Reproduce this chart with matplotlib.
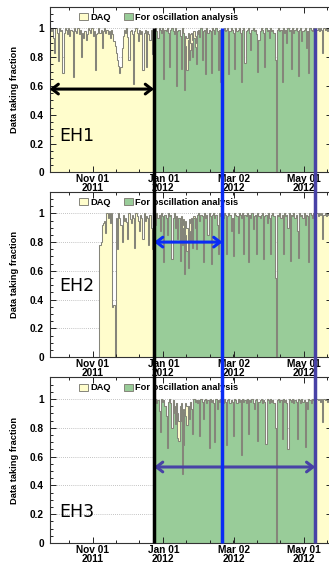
import datetime as dt
import matplotlib
matplotlib.use('Agg')
import matplotlib.pyplot as plt
import matplotlib.dates as mdates
from matplotlib.lines import Line2D
from matplotlib.patches import Patch
from matplotlib.ticker import MultipleLocator

# daily data taking fractions, one value per day
EH1_START = dt.date(2011, 9, 24)
EH2_START = dt.date(2011, 11, 7)
EH3_START = dt.date(2011, 12, 24)
OSC_START = dt.date(2011, 12, 24)

# EH1: Sep 24 - Dec 23 (DAQ only)
EH1_DAQ_PRE = [0.97, 1, 0.98, 1, 0.93, 0.83, 1, 0.97, 0.77, 1,
               0.98, 0.99, 0.69, 0.97, 1, 0.99, 0.96, 1, 0.95, 0.99,
               0.98, 0.66, 1, 0.98, 0.97, 1, 0.96, 0.99, 0.80, 0.97,
               0.93, 0.98, 0.92, 0.96, 1, 0.99, 0.97, 1, 0.95, 0.98,
               0.71, 0.96, 0.97, 1, 0.97, 0.99, 0.86, 0.98, 1, 0.97,
               0.99, 0.96, 0.98, 0.93, 0.99, 0.96, 0.91, 0.88, 0.83, 0.78,
               0.74, 0.69, 0.73, 0.86, 0.95, 0.99, 0.97, 1, 0.94, 0.78,
               0.98, 0.99, 0.96, 0.61, 0.98, 1, 0.97, 0.91, 0.99, 0.96,
               0.98, 0.71, 0.97, 0.99, 0.73, 0.98, 0.96, 0.92, 0.99, 0.82,
               0.97]
# Dec 24 - May 10
EH1_DAQ_RUN = [0.99, 1, 0.98, 0.93, 1, 0.99, 0.97, 1, 0.65, 0.99,
               0.98, 1, 0.97, 0.73, 0.99, 1, 0.98, 0.96, 1, 0.60,
               0.98, 0.99, 0.95, 0.72, 1, 0.97, 0.62, 0.95, 0.93, 0.97,
               0.90, 0.96, 0.97, 0.92, 0.98, 0.95, 0.90, 0.98, 0.99, 0.94,
               1, 0.78, 0.98, 0.99, 0.68, 1, 0.97, 0.99, 0.98, 0.69,
               1, 0.99, 0.96, 1, 0.98, 0.71, 0.99, 0.63, 0.97, 0.99,
               1, 0.98, 0.99, 1, 0.68, 0.98, 1, 0.99, 0.97, 0.72,
               1, 0.98, 0.99, 1, 0.97, 0.63, 0.99, 1, 0.76, 0.98,
               0.99, 1, 0.97, 0.85, 0.99, 1, 0.98, 0.99, 0.96, 0.70,
               0.92, 0.98, 1, 0.99, 0.97, 0.73, 1, 0.98, 0.99, 0.93,
               1, 0.98, 0.99, 0.97, 0.78, 0, 0.99, 1, 0.98, 0.99,
               0.63, 1, 0.97, 0.99, 0.90, 1, 0.98, 0.99, 0.72, 1,
               0.97, 0.99, 1, 0.98, 0.67, 0.99, 1, 0.91, 0.98, 0.99,
               1, 0.86, 0.98, 0.69, 1, 0.99, 0.98, 1, 0.99]
EH1_OSC = [0.99, 1, 0.98, 0.93, 1, 0.99, 0.97, 1, 0.65, 0.99,
           0.98, 1, 0.97, 0.73, 0.99, 1, 0.98, 0.96, 1, 0.60,
           0.98, 0.99, 0.95, 0.72, 1, 0.97, 0.57, 0.88, 0.71, 0.92,
           0.78, 0.85, 0.90, 0.80, 0.93, 0.87, 0.75, 0.96, 0.99, 0.94,
           1, 0.78, 0.98, 0.99, 0.68, 1, 0.97, 0.99, 0.98, 0.69,
           1, 0.99, 0.96, 1, 0.98, 0.71, 0.99, 0.63, 0.97, 0.99,
           1, 0.98, 0.99, 1, 0.68, 0.98, 1, 0.99, 0.97, 0.72,
           1, 0.98, 0.99, 1, 0.97, 0.63, 0.99, 1, 0.76, 0.98,
           0.99, 1, 0.97, 0.85, 0.99, 1, 0.98, 0.99, 0.96, 0.70,
           0.92, 0.98, 1, 0.99, 0.97, 0.73, 1, 0.98, 0.99, 0.93,
           1, 0.98, 0.99, 0.97, 0.78, 0, 0.99, 1, 0.98, 0.99,
           0.63, 1, 0.97, 0.99, 0.90, 1, 0.98, 0.99, 0.72, 1,
           0.97, 0.99, 1, 0.98, 0.67, 0.99, 1, 0.91, 0.98, 0.99,
           1, 0.86, 0.98, 0.69, 1, 0.99, 0.98, 1, 0.99]
# May 11 - May 24
EH1_DAQ_POST = [1, 0.99, 1, 0.98, 1, 0.99, 0.83, 1, 0.99, 1, 0.98, 1, 0.99, 1]

# EH2: Nov 7 - Dec 23
EH2_DAQ_PRE = [0.78, 0.80, 0.92, 0.93, 0.95, 0.86, 1, 0.97, 1, 0.93,
               1, 0.35, 0.36, 0, 0.97, 0.75, 1, 0.97, 0.92, 0.80,
               0.99, 0.95, 0.97, 0.94, 0.82, 1, 0.96, 0.93, 0.99, 0.97,
               0.76, 1, 0.98, 0.95, 0.88, 0.99, 0.97, 0.82, 1, 0.95,
               0.98, 0.97, 0.78, 0.99, 0.90, 0.75, 0.96]
EH2_DAQ_RUN = [0.98, 0.92, 1, 0.97, 0.99, 0.88, 1, 0.98, 0.66, 0.99,
               0.97, 0.85, 1, 0.98, 0.99, 0.68, 0.97, 1, 0.90, 0.98,
               0.95, 0.97, 0.85, 0.98, 0.92, 0.96, 0.60, 0.95, 0.90, 0.66,
               0.96, 0.93, 0.97, 0.90, 0.98, 0.97, 0.88, 0.99, 1, 0.95,
               0.99, 0.98, 0.66, 1, 0.97, 0.99, 0.85, 1, 0.98, 0.65,
               0.99, 1, 0.97, 0.99, 0.92, 0.72, 1, 0.98, 0.99, 0.97,
               1, 0.99, 0.72, 0.98, 1, 0.99, 0.88, 0.97, 0.70, 1,
               0.99, 0.98, 0.86, 1, 0.99, 0.97, 1, 0.72, 0.99, 0.98,
               1, 0.66, 0.99, 0.97, 1, 0.89, 0.98, 0.99, 0.72, 1,
               0.98, 0.97, 0.99, 1, 0.68, 0.98, 0.99, 0.93, 1, 0.97,
               0.72, 0.99, 1, 0.98, 0.55, 0, 0.99, 0.98, 1, 0.97,
               0.99, 0.72, 1, 0.98, 0.99, 0.90, 1, 0.67, 0.99, 0.98,
               1, 0.97, 0.99, 0.88, 0.69, 1, 0.98, 0.99, 0.97, 1,
               0.92, 0.99, 0.98, 0.66, 1, 0.99, 0.97, 1, 0.98]
EH2_OSC = [0.98, 0.92, 1, 0.97, 0.99, 0.88, 1, 0.98, 0.66, 0.99,
           0.97, 0.85, 1, 0.98, 0.99, 0.68, 0.97, 1, 0.90, 0.98,
           0.82, 0.97, 0.67, 0.95, 0.78, 0.90, 0.58, 0.85, 0.74, 0.62,
           0.88, 0.80, 0.93, 0.76, 0.97, 0.90, 0.75, 0.99, 1, 0.95,
           0.99, 0.98, 0.66, 1, 0.97, 0.99, 0.85, 1, 0.98, 0.65,
           0.99, 1, 0.97, 0.99, 0.92, 0.72, 1, 0.98, 0.99, 0.97,
           1, 0.99, 0.72, 0.98, 1, 0.99, 0.88, 0.97, 0.70, 1,
           0.99, 0.98, 0.86, 1, 0.99, 0.97, 1, 0.72, 0.99, 0.98,
           1, 0.66, 0.99, 0.97, 1, 0.89, 0.98, 0.99, 0.72, 1,
           0.98, 0.97, 0.99, 1, 0.68, 0.98, 0.99, 0.93, 1, 0.97,
           0.72, 0.99, 1, 0.98, 0.55, 0, 0.99, 0.98, 1, 0.97,
           0.99, 0.72, 1, 0.98, 0.99, 0.90, 1, 0.67, 0.99, 0.98,
           1, 0.97, 0.99, 0.88, 0.69, 1, 0.98, 0.99, 0.97, 1,
           0.92, 0.99, 0.98, 0.66, 1, 0.99, 0.97, 1, 0.98]
EH2_DAQ_POST = [0.99, 1, 0.98, 1, 0.99, 1, 0.82, 0.99, 1, 0.98, 1, 0.99, 1, 0.98]

# EH3: starts Dec 24
EH3_DAQ_RUN = [0.99, 1, 0.97, 0.99, 0.92, 0.77, 1, 0.98, 0.99, 0.95,
               0.88, 0.66, 0.98, 1, 0.97, 0.80, 0.99, 0.90, 0.95, 0.97,
               0.90, 0.85, 0.95, 0.97, 0.48, 0.93, 0.92, 0.97, 0.95, 0.95,
               0.86, 0.98, 0.93, 0.76, 1, 0.98, 0.99, 0.97, 0.99, 0.74,
               1, 0.98, 0.86, 0.99, 1, 0.97, 0.99, 0.66, 1, 0.98,
               0.99, 0.97, 0.70, 1, 0.93, 0.99, 0.98, 1, 0.99, 0.97,
               1, 0.98, 0.68, 0.99, 1, 0.97, 0.99, 0.98, 0.74, 1,
               0.99, 0.97, 1, 0.98, 0.99, 0.61, 1, 0.98, 0.99, 0.97,
               1, 0.76, 0.99, 0.98, 1, 0.97, 0.93, 0.99, 1, 0.71,
               0.98, 0.99, 1, 0.97, 0.99, 0.98, 0.69, 1, 0.99, 0.97,
               1, 0.98, 0.99, 0.97, 0.80, 0, 0.99, 1, 0.98, 0.99,
               0.72, 1, 0.98, 0.99, 0.97, 0.65, 1, 0.99, 0.98, 1,
               0.97, 0.99, 0.98, 0.72, 1, 0.99, 0.97, 1, 0.98, 0.99,
               0.67, 0.98, 0.93, 1, 0.99, 0.97, 1, 0.99, 0.98]
EH3_OSC = [0.99, 1, 0.97, 0.99, 0.92, 0.77, 1, 0.98, 0.99, 0.95,
           0.88, 0.66, 0.98, 1, 0.97, 0.80, 0.99, 0.90, 0.83, 0.97,
           0.73, 0.71, 0.95, 0.85, 0.48, 0.68, 0.92, 0.88, 0.82, 0.95,
           0.86, 0.98, 0.93, 0.76, 1, 0.98, 0.99, 0.97, 0.99, 0.74,
           1, 0.98, 0.86, 0.99, 1, 0.97, 0.99, 0.66, 1, 0.98,
           0.99, 0.97, 0.70, 1, 0.93, 0.99, 0.98, 1, 0.99, 0.97,
           1, 0.98, 0.68, 0.99, 1, 0.97, 0.99, 0.98, 0.74, 1,
           0.99, 0.97, 1, 0.98, 0.99, 0.61, 1, 0.98, 0.99, 0.97,
           1, 0.76, 0.99, 0.98, 1, 0.97, 0.93, 0.99, 1, 0.71,
           0.98, 0.99, 1, 0.97, 0.99, 0.98, 0.69, 1, 0.99, 0.97,
           1, 0.98, 0.99, 0.97, 0.80, 0, 0.99, 1, 0.98, 0.99,
           0.72, 1, 0.98, 0.99, 0.97, 0.65, 1, 0.99, 0.98, 1,
           0.97, 0.99, 0.98, 0.72, 1, 0.99, 0.97, 1, 0.98, 0.99,
           0.67, 0.98, 0.93, 1, 0.99, 0.97, 1, 0.99, 0.98]
EH3_DAQ_POST = [0.99, 1, 0.99, 1, 0.98, 1, 0.84, 1, 0.99, 1, 0.98, 1, 0.99, 1]

HALLS = ['EH1', 'EH2', 'EH3']
TICK_DATES = [dt.date(2011, 11, 1), dt.date(2012, 1, 1), dt.date(2012, 3, 2), dt.date(2012, 5, 1)]
Y_TICKS = [0, 0.2, 0.4, 0.6, 0.8, 1]
Y_TICK_LABELS = ['0', '0.2', '0.4', '0.6', '0.8', '1']

# period markers drawn over the panels
PERIOD_START = dt.date(2011, 12, 24)
PERIOD_MID = dt.date(2012, 2, 21)
PERIOD_END = dt.date(2012, 5, 11)

YELLOW = '#FFFDCC'
GREEN = '#99CC99'
OUTLINE = '#85857A'
BLUE = '#0A2CF5'
SLATE = '#4842A6'

X_LEFT = dt.date(2011, 9, 25)
X_RIGHT = dt.date(2012, 5, 25)

plt.rcParams['font.family'] = 'Liberation Sans'
plt.rcParams['font.weight'] = 'bold'


def day_edges(start, n):
    return mdates.date2num([start + dt.timedelta(days=k) for k in range(n + 1)])


fig = plt.figure(figsize=(3.29, 5.64), dpi=100)
bottoms = [0.6945, 0.3665, 0.0372]
axes = [fig.add_axes([0.1508, b, 0.8568, 0.2936]) for b in bottoms]

daq_series = [
    (EH1_START, EH1_DAQ_PRE + EH1_DAQ_RUN + EH1_DAQ_POST),
    (EH2_START, EH2_DAQ_PRE + EH2_DAQ_RUN + EH2_DAQ_POST),
    (EH3_START, EH3_DAQ_RUN + EH3_DAQ_POST),
]
osc_series = [EH1_OSC, EH2_OSC, EH3_OSC]

xl = mdates.date2num(X_LEFT)
ps, pm, pe = mdates.date2num([PERIOD_START, PERIOD_MID, PERIOD_END])
arrows = [(xl, ps, 0.578, 'black'), (ps, pm, 0.80, BLUE), (ps, pe, 0.528, SLATE)]
name_y = [0.22, 0.457, 0.18]

for k, ax in enumerate(axes):
    start, daq = daq_series[k]
    osc = osc_series[k]
    e_daq = day_edges(start, len(daq))
    e_osc = day_edges(OSC_START, len(osc))

    for y in Y_TICKS[1:]:
        ax.axhline(y, color='#B0B0B0', lw=0.6, ls=(0, (1, 1.5)), zorder=0.8)

    ax.stairs(daq, e_daq, fill=True, color=YELLOW, zorder=1.2)
    ax.stairs(daq, e_daq, color=OUTLINE, lw=0.75, zorder=1.3)
    ax.stairs(osc, e_osc, fill=True, color=GREEN, zorder=1.4)
    ax.stairs(osc, e_osc, color=OUTLINE, lw=0.75, zorder=1.5)

    ax.set_ylim(0, 1.15)

    majors = mdates.date2num(TICK_DATES)
    ax.set_xticks(majors)
    ax.xaxis.set_major_formatter(mdates.DateFormatter('%b %d\n%Y'))
    step = (majors[-1] - majors[0]) / 9
    ax.set_xticks([majors[0] - 2 * step + step * n for n in range(14)], minor=True)
    ax.set_yticks(Y_TICKS, Y_TICK_LABELS)
    ax.yaxis.set_minor_locator(MultipleLocator(0.05))
    ax.set_xlim(mdates.date2num(X_LEFT), mdates.date2num(X_RIGHT))

    ax.tick_params(which='both', direction='in', top=True, right=True, colors='#222222',
                   labelcolor='black', width=0.7)
    ax.tick_params(which='major', length=4)
    ax.tick_params(which='minor', length=2)
    ax.tick_params(axis='x', labelsize=7.3, pad=1.5)
    ax.tick_params(axis='y', labelsize=7.3, pad=4)
    for lab in ax.get_xticklabels():
        lab.set_linespacing(0.88)
    for sp in ax.spines.values():
        sp.set_color('#333333')
        sp.set_linewidth(0.8)

    ax.set_ylabel('Data taking fraction', fontsize=6.7, fontweight='bold')
    ax.yaxis.set_label_coords(-0.108, 0.5)

    handles = [Patch(facecolor=YELLOW, edgecolor=OUTLINE, lw=0.7, label='DAQ'),
               Patch(facecolor=GREEN, edgecolor=OUTLINE, lw=0.7, label='For oscillation analysis')]
    ax.legend(handles=handles, ncol=2, loc='center left', bbox_to_anchor=(0.105, 1.077 / 1.15),
              frameon=False, prop={'weight': 'bold', 'size': 6.7}, handlelength=0.95,
              handleheight=0.85, handletextpad=0.25, columnspacing=1.4, borderpad=0, borderaxespad=0)

    ax.text(0.034, name_y[k], HALLS[k], transform=ax.get_yaxis_transform(),
            family='DejaVu Sans', fontweight='normal', fontsize=12.5, va='baseline', zorder=6)

    x0, x1, ya, col = arrows[k]
    ax.annotate('', xy=(x1, ya), xytext=(x0, ya), xycoords='data',
                arrowprops=dict(arrowstyle='<->,head_length=0.45,head_width=0.35', lw=2.2,
                                color=col, shrinkA=0, shrinkB=0), zorder=7, annotation_clip=False)

# period lines spanning all three panels
inv = fig.transFigure.inverted()
y_top = inv.transform(axes[0].transData.transform((ps, 1.0)))[1]
y_bot = inv.transform(axes[2].transData.transform((ps, 0.0)))[1]
for xd, col in [(ps, 'black'), (pm, BLUE), (pe, SLATE)]:
    xf = inv.transform(axes[0].transData.transform((xd, 1.0)))[0]
    fig.add_artist(Line2D([xf, xf], [y_bot, y_top], transform=fig.transFigure,
                          color=col, lw=2.5, solid_capstyle='butt', zorder=10))

fig.savefig('out.png', dpi=100)
